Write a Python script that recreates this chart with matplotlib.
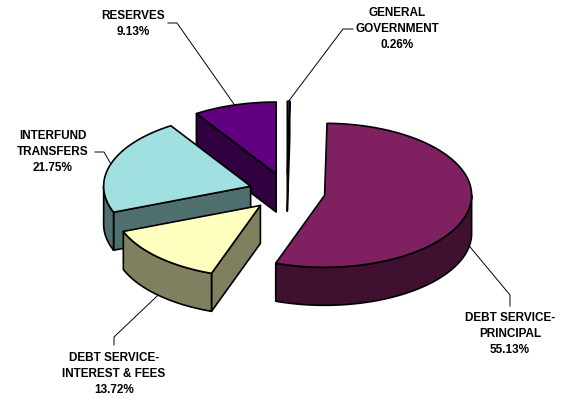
import numpy as np
import matplotlib.pyplot as plt
from matplotlib.patches import Polygon

# data
labels = ["GENERAL\nGOVERNMENT", "DEBT SERVICE-\nPRINCIPAL",
          "DEBT SERVICE-\nINTEREST & FEES", "INTERFUND\nTRANSFERS", "RESERVES"]
shares = [0.26, 55.13, 13.72, 21.75, 9.13]
top_colors = ["#3A3AA0", "#7F2060", "#FFFFC0", "#A0E0E0", "#600080"]
side_colors = ["#1C1C50", "#401030", "#808060", "#507070", "#300040"]

# pie layout (pixels)
cx, cy = 287, 192
rx, ry = 147, 72
depth = 38
explode = 0.26

# label placement: text centre, elbow start (near text), elbow end
label_pos = [(397, 29), (510, 334), (114, 374), (53, 152), (133, 24)]
elbow = [((353, 29), (343, 29)), ((510, 306), (510, 295)),
         ((114, 345), (114, 337)), ((95, 152), (104, 152)),
         ((168, 23), (177, 23))]

fig = plt.figure(figsize=(5.64, 3.98), dpi=100)
ax = fig.add_axes([0, 0, 1, 1])
ax.set_xlim(0, 564)
ax.set_ylim(398, 0)
ax.axis("off")


def pt(theta, r, ox, oy, dz=0):
    t = np.radians(theta)
    return ox + r * rx * np.sin(t), oy - r * ry * np.cos(t) + dz


total = sum(shares)
angles = np.cumsum([0] + [s / total * 360 for s in shares])

slices = []
for i, s in enumerate(shares):
    a0, a1 = angles[i], angles[i + 1]
    mid = (a0 + a1) / 2
    ox, oy = pt(mid, explode, cx, cy)
    slices.append((i, a0, a1, mid, ox, oy))

# back slices first
slices.sort(key=lambda s: -np.cos(np.radians(s[3])))

for i, a0, a1, mid, ox, oy in slices:
    kw = dict(edgecolor="black", linewidth=1.2, joinstyle="round")
    th = np.linspace(a0, a1, max(int(a1 - a0) * 2, 3))
    ax_, ay_ = pt(th, 1, ox, oy)

    # radial side faces
    for edge, normal in ((a0, a0 - 90), (a1, a1 + 90)):
        if np.cos(np.radians(normal)) < 0:
            ex, ey = pt(edge, 1, ox, oy)
            face = [(ox, oy), (ex, ey), (ex, ey + depth), (ox, oy + depth)]
            ax.add_patch(Polygon(face, facecolor=side_colors[i], **kw))

    # outer wall, front half only
    w0, w1 = max(a0, 90), min(a1, 270)
    if w1 > w0:
        tw = np.linspace(w0, w1, 200)
        wx, wy = pt(tw, 1, ox, oy)
        wall = np.concatenate([np.column_stack([wx, wy]),
                               np.column_stack([wx, wy + depth])[::-1]])
        ax.add_patch(Polygon(wall, facecolor=side_colors[i], **kw))

    # top face
    top = np.vstack([[ox, oy], np.column_stack([ax_, ay_])])
    ax.add_patch(Polygon(top, facecolor=top_colors[i], **kw))

# labels and leader lines
for i, a0, a1, mid, ox, oy in slices:
    tx, ty = label_pos[i]
    ax.text(tx, ty, f"{labels[i]}\n{shares[i]:.2f}%", ha="center", va="center",
            fontsize=8.5, fontweight="bold", linespacing=1.45,
            family=["Liberation Sans", "DejaVu Sans"])
    px, py = pt(mid, 1, ox, oy, depth if np.cos(np.radians(mid)) < 0 else 0)
    (x0, y0), (x1, y1) = elbow[i]
    ax.plot([x0, x1, px], [y0, y1, py], color="black", lw=0.7)

plt.savefig("out.png", dpi=100)
